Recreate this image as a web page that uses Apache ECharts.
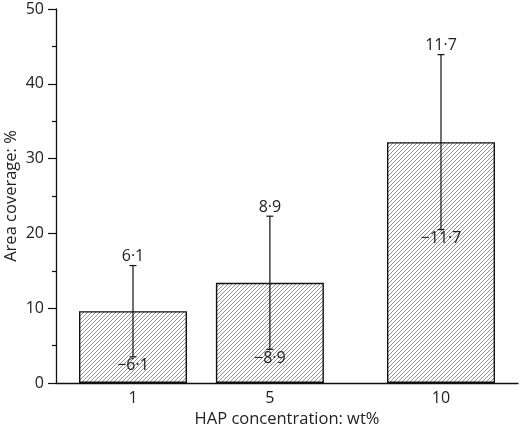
<!DOCTYPE html>
<html>
<head>
<meta charset="utf-8">
<script src="https://cdn.jsdelivr.net/npm/echarts@6/dist/echarts.min.js"></script>
<style>
  html, body { margin: 0; padding: 0; background: #fff; }
  #chart { width: 520px; height: 428px; }
</style>
</head>
<body>
<div id="chart"></div>
<script type="text/javascript">
// data
var concentrations = [1, 5, 10];
var coverage = [9.6, 13.4, 32.2];
var errors = [6.1, 8.9, 11.7];
var xTicks = [1, 5, 10];

var FONT = '"Open Sans", "Noto Sans", sans-serif';
var INK = '#222';

// diagonal hatch fill for the bars
function hatch() {
  var c = document.createElement('canvas');
  c.width = 4; c.height = 4;
  var g = c.getContext('2d');
  g.strokeStyle = '#777';
  g.lineWidth = 0.8;
  g.beginPath();
  g.moveTo(0, 4); g.lineTo(4, 0);
  g.moveTo(-1, 1); g.lineTo(1, -1);
  g.moveTo(3, 5); g.lineTo(5, 3);
  g.stroke();
  return c;
}

function fmt(v) {
  return v.toFixed(1).replace('.', '\u00b7');
}

var barData = concentrations.map(function (x, i) { return [x, coverage[i]]; });
var errData = concentrations.map(function (x, i) {
  return [x, coverage[i] + errors[i], coverage[i] - errors[i], errors[i]];
});

var chart = echarts.init(document.getElementById('chart'));

chart.setOption({
  animation: false,
  grid: { left: 56, right: 2, top: 9, bottom: 45, outerBoundsMode: 'none', containLabel: false },
  xAxis: {
    type: 'value',
    min: -1.25,
    max: 12.25,
    name: 'HAP concentration: wt%',
    nameLocation: 'middle',
    nameGap: 28,
    nameMoveOverlap: false,
    nameTextStyle: { fontFamily: FONT, fontSize: 16.5, color: INK },
    axisLine: { onZero: false, lineStyle: { color: '#111', width: 1.3 } },
    axisTick: { show: false },
    splitLine: { show: false },
    axisLabel: {
      customValues: xTicks,
      fontFamily: FONT, fontSize: 16, color: INK, margin: 7
    }
  },
  yAxis: {
    type: 'value',
    min: 0,
    max: 50,
    interval: 10,
    name: 'Area coverage: %',
    nameLocation: 'middle',
    nameGap: 36,
    nameMoveOverlap: false,
    nameTextStyle: { fontFamily: FONT, fontSize: 16.5, color: INK },
    axisLine: { show: true, onZero: false, lineStyle: { color: '#111', width: 1.3 } },
    axisTick: { show: true, length: 8, lineStyle: { color: '#111', width: 1.2 } },
    minorTick: { show: true, splitNumber: 2, length: 4, lineStyle: { color: '#111', width: 1.2 } },
    splitLine: { show: false },
    axisLabel: { fontFamily: FONT, fontSize: 16, color: INK, margin: 12 }
  },
  series: [
    {
      type: 'bar',
      data: barData,
      barWidth: 108,
      itemStyle: {
        color: { image: hatch(), repeat: 'repeat' },
        borderColor: '#111',
        borderWidth: 1.4
      }
    },
    {
      type: 'custom',
      data: errData,
      z: 5,
      renderItem: function (params, api) {
        var hi = api.coord([api.value(0), api.value(1)]);
        var lo = api.coord([api.value(0), api.value(2)]);
        var e = fmt(api.value(3));
        var cap = 3.5;
        var ls = { stroke: '#111', lineWidth: 1.2 };
        return {
          type: 'group',
          children: [
            { type: 'line', shape: { x1: hi[0], y1: hi[1], x2: lo[0], y2: lo[1] }, style: ls },
            { type: 'line', shape: { x1: hi[0] - cap, y1: hi[1], x2: hi[0] + cap, y2: hi[1] }, style: ls },
            { type: 'line', shape: { x1: lo[0] - cap, y1: lo[1], x2: lo[0] + cap, y2: lo[1] }, style: ls },
            { type: 'text', x: hi[0], y: hi[1] - 1,
              style: { text: e, fill: INK, font: '16px ' + FONT, textAlign: 'center', textVerticalAlign: 'bottom' } },
            { type: 'text', x: lo[0], y: lo[1] + 1,
              style: { text: '\u2212' + e, fill: INK, font: '16px ' + FONT, textAlign: 'center', textVerticalAlign: 'top' } }
          ]
        };
      }
    }
  ]
});
</script>
</body>
</html>
